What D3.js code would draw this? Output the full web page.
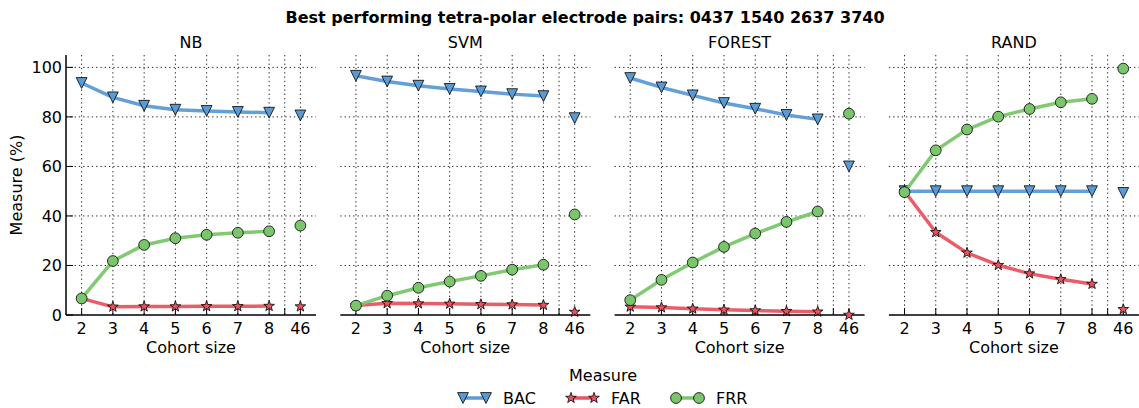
<!DOCTYPE html>
<html>
<head>
<meta charset="utf-8">
<script src="https://cdn.jsdelivr.net/npm/d3@7"></script>
<style>
  html, body { margin: 0; padding: 0; background: #ffffff; }
  svg { display: block; }
  text { font-family: "DejaVu Sans", sans-serif; fill: #000; }
</style>
</head>
<body>
<svg id="chart" width="1139" height="408"></svg>
<script>
// Classifiers, one panel each
const classifiers = ["NB", "SVM", "FOREST", "RAND"];
// Cohort sizes on the x axis (the last one is the full cohort, shown as a lone point)
const cohortSizes = ["2", "3", "4", "5", "6", "7", "8", "46"];
const yTicks = [0, 20, 40, 60, 80, 100];
const measures = ["BAC", "FAR", "FRR"];

// Balanced accuracy (%) per classifier, per cohort size
const bacNB     = [93.7, 87.9, 84.5, 82.9, 82.4, 82.0, 81.7, 80.6];
const bacSVM    = [96.6, 94.3, 92.6, 91.3, 90.3, 89.2, 88.4, 79.5];
const bacFOREST = [95.7, 91.9, 88.7, 85.6, 83.3, 80.8, 79.0, 60.0];
const bacRAND   = [50.0, 50.0, 50.0, 50.0, 50.0, 50.0, 50.0, 49.3];

// False acceptance rate (%)
const farNB     = [6.7, 3.3, 3.4, 3.4, 3.5, 3.5, 3.6, 3.4];
const farSVM    = [3.8, 4.7, 4.6, 4.5, 4.3, 4.2, 4.0, 1.2];
const farFOREST = [3.3, 3.0, 2.5, 2.1, 1.8, 1.5, 1.3, 0.0];
const farRAND   = [50.0, 33.4, 25.1, 20.1, 16.7, 14.4, 12.5, 2.3];

// False rejection rate (%)
const frrNB     = [6.7, 21.8, 28.3, 31.0, 32.4, 33.2, 33.8, 36.1];
const frrSVM    = [3.8, 7.8, 11.0, 13.5, 15.8, 18.3, 20.3, 40.6];
const frrFOREST = [6.0, 14.2, 21.2, 27.5, 32.9, 37.6, 41.8, 81.3];
const frrRAND   = [49.6, 66.5, 74.9, 80.1, 83.2, 85.9, 87.3, 99.5];

const bacValues = [bacNB, bacSVM, bacFOREST, bacRAND];
const farValues = [farNB, farSVM, farFOREST, farRAND];
const frrValues = [frrNB, frrSVM, frrFOREST, frrRAND];

const colors = { BAC: "#5b9bd5", FAR: "#e9535f", FRR: "#7bc66c" };

const svg = d3.select("#chart");

// Layout
const panelW = 250, gapW = 24.3, left0 = 66;
const plotTop = 55, plotBottom = 315;

const y = d3.scaleLinear().domain([0, 105]).range([plotBottom, plotTop]);

// Marker shapes centred on the point
const triPath = (s) => `M${-s},${-s}L${s},${-s}L0,${s}Z`;
function starPath(R) {
  const r = R * 0.4, pts = [];
  for (let i = 0; i < 10; i++) {
    const a = -Math.PI / 2 + i * Math.PI / 5;
    const rad = i % 2 === 0 ? R : r;
    pts.push([rad * Math.cos(a), rad * Math.sin(a)]);
  }
  return "M" + pts.map(p => p[0].toFixed(2) + "," + p[1].toFixed(2)).join("L") + "Z";
}
function drawMarker(g, m, cx, cy) {
  if (m === "BAC") {
    g.append("path").attr("d", triPath(5.4)).attr("transform", `translate(${cx},${cy})`)
      .attr("fill", colors.BAC).attr("stroke", "#000").attr("stroke-width", 0.8);
  } else if (m === "FAR") {
    g.append("path").attr("d", starPath(5.6)).attr("transform", `translate(${cx},${cy})`)
      .attr("fill", colors.FAR).attr("stroke", "#000").attr("stroke-width", 0.8);
  } else {
    g.append("circle").attr("cx", cx).attr("cy", cy).attr("r", 5.4)
      .attr("fill", colors.FRR).attr("stroke", "#000").attr("stroke-width", 0.8);
  }
}

// Title
svg.append("text").attr("x", 585).attr("y", 23).attr("text-anchor", "middle")
  .style("font-size", "16px").style("font-weight", "bold")
  .text("Best performing tetra-polar electrode pairs: 0437 1540 2637 3740");

classifiers.forEach((name, p) => {
  const x0 = left0 + p * (panelW + gapW);
  const x = d3.scaleLinear().domain([-0.5, cohortSizes.length - 0.5]).range([x0, x0 + panelW]);
  const g = svg.append("g");
  const dot = "1.3,3";

  // Grid
  yTicks.filter(v => v > 0).forEach(v => {
    g.append("line").attr("x1", x0).attr("x2", x0 + panelW).attr("y1", y(v)).attr("y2", y(v))
      .attr("stroke", "#222").attr("stroke-width", 1).attr("stroke-dasharray", dot);
  });
  const vlines = cohortSizes.map((c, i) => i).concat([cohortSizes.length - 1.5]);
  vlines.forEach(i => {
    g.append("line").attr("x1", x(i)).attr("x2", x(i)).attr("y1", plotTop).attr("y2", plotBottom)
      .attr("stroke", "#222").attr("stroke-width", 1).attr("stroke-dasharray", dot);
  });
  // Inward ticks on the x axis, incl. the separator before the full cohort
  vlines.forEach(i => {
    g.append("line").attr("x1", x(i)).attr("x2", x(i)).attr("y1", plotBottom).attr("y2", plotBottom - 7)
      .attr("stroke", "#000").attr("stroke-width", 1);
  });

  // Axes
  g.append("line").attr("x1", x0).attr("x2", x0 + panelW).attr("y1", plotBottom).attr("y2", plotBottom)
    .attr("stroke", "#000").attr("stroke-width", 1.5);
  if (p === 0) {
    g.append("line").attr("x1", x0).attr("x2", x0).attr("y1", plotTop).attr("y2", plotBottom)
      .attr("stroke", "#000").attr("stroke-width", 1.5);
    yTicks.forEach(v => {
      g.append("line").attr("x1", x0).attr("x2", x0 + 7).attr("y1", y(v)).attr("y2", y(v))
        .attr("stroke", "#000").attr("stroke-width", 1);
      g.append("text").attr("x", x0 - 4).attr("y", y(v)).attr("dy", "0.36em")
        .attr("text-anchor", "end").style("font-size", "16px").text(v);
    });
    svg.append("text").attr("transform", `translate(22,${(plotTop + plotBottom) / 2}) rotate(-90)`)
      .attr("text-anchor", "middle").style("font-size", "16px").text("Measure (%)");
  }
  cohortSizes.forEach((c, i) => {
    g.append("text").attr("x", x(i)).attr("y", 334).attr("text-anchor", "middle")
      .style("font-size", "16px").text(c);
  });
  g.append("text").attr("x", x0 + panelW / 2).attr("y", 353).attr("text-anchor", "middle")
    .style("font-size", "16px").text("Cohort size");
  g.append("text").attr("x", x0 + panelW / 2).attr("y", 48).attr("text-anchor", "middle")
    .style("font-size", "16px").text(name);

  // Series: line over cohorts 2..8, markers everywhere
  const series = { BAC: bacValues[p], FAR: farValues[p], FRR: frrValues[p] };
  const line = d3.line().x((d, i) => x(i)).y(d => y(d));
  measures.forEach(m => {
    const vals = series[m];
    g.append("path").attr("d", line(vals.slice(0, cohortSizes.length - 1)))
      .attr("fill", "none").attr("stroke", colors[m]).attr("stroke-width", 3.5)
      .attr("stroke-opacity", 0.95).attr("stroke-linejoin", "round");
    vals.forEach((v, i) => drawMarker(g, m, x(i), y(v)));
  });
});

// Legend
svg.append("text").attr("x", 603).attr("y", 381).attr("text-anchor", "middle")
  .style("font-size", "16px").text("Measure");
const legendX = [463, 571, 676];
const lg = svg.append("g");
measures.forEach((m, k) => {
  const lx = legendX[k], ly = 398;
  lg.append("line").attr("x1", lx).attr("x2", lx + 23).attr("y1", ly).attr("y2", ly)
    .attr("stroke", colors[m]).attr("stroke-width", 3.5);
  drawMarker(lg, m, lx, ly);
  drawMarker(lg, m, lx + 23, ly);
  lg.append("text").attr("x", lx + 40).attr("y", 404).style("font-size", "16px").text(m);
});
</script>
</body>
</html>
